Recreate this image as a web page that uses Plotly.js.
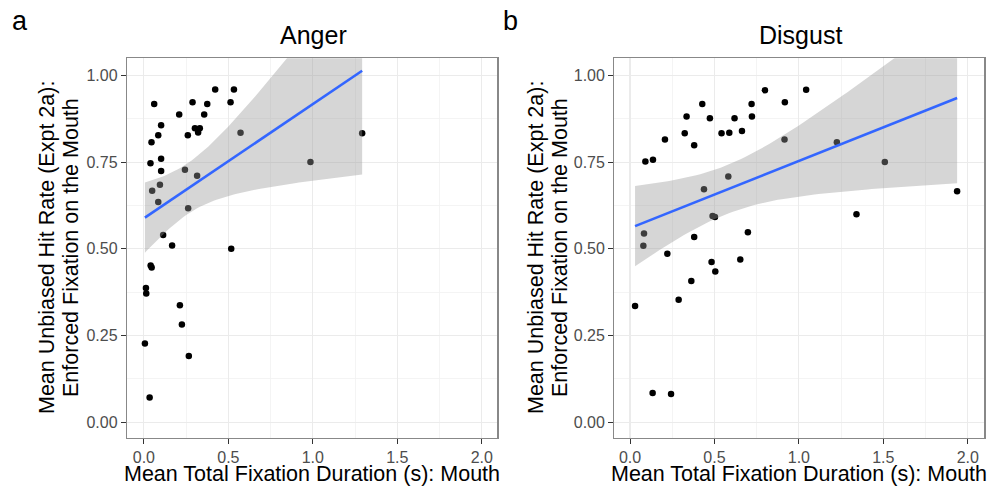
<!DOCTYPE html>
<html>
<head>
<meta charset="utf-8">
<script src="https://cdn.plot.ly/plotly-3.0.1.min.js"></script>
<style>
  html, body { margin: 0; padding: 0; background: #ffffff; }
  #chart { width: 992px; height: 487px; }
</style>
</head>
<body>
<div id="chart"></div>
<script>
// Mean total fixation duration on the mouth (s) vs. mean unbiased hit rate
const angerX = [0.061, 0.102, 0.085, 0.045, 0.039, 0.102, 0.102, 0.095, 0.049, 0.085,
                0.209, 0.288, 0.375, 0.422, 0.533, 0.513, 0.357, 0.302, 0.331, 0.321,
                0.260, 0.572, 0.243, 0.315, 0.262, 0.986, 1.292, 0.114, 0.167, 0.517,
                0.040, 0.046, 0.012, 0.014, 0.213, 0.225, 0.006, 0.266, 0.034];
const angerY = [0.918, 0.857, 0.828, 0.808, 0.747, 0.760, 0.725, 0.685, 0.668, 0.635,
                0.888, 0.923, 0.918, 0.960, 0.960, 0.923, 0.888, 0.848, 0.848, 0.836,
                0.828, 0.835, 0.728, 0.711, 0.617, 0.751, 0.834, 0.540, 0.510, 0.500,
                0.452, 0.446, 0.387, 0.371, 0.337, 0.282, 0.227, 0.191, 0.071];

const disgustX = [0.091, 0.136, 0.207, 0.083, 0.079, 0.221, 0.324, 0.335, 0.380, 0.428,
                  0.438, 0.473, 0.380, 0.489, 0.503, 0.542, 0.588, 0.582, 0.619, 0.663,
                  0.720, 0.722, 0.698, 0.799, 0.917, 0.915, 1.043, 1.225, 1.341, 1.509,
                  1.937, 0.030, 0.288, 0.363, 0.483, 0.505, 0.653, 0.134, 0.243];
const disgustY = [0.752, 0.757, 0.816, 0.544, 0.509, 0.486, 0.834, 0.882, 0.799, 0.918,
                  0.672, 0.877, 0.534, 0.595, 0.592, 0.834, 0.835, 0.709, 0.877, 0.840,
                  0.918, 0.882, 0.548, 0.958, 0.923, 0.816, 0.959, 0.808, 0.600, 0.751,
                  0.666, 0.335, 0.353, 0.407, 0.462, 0.435, 0.469, 0.084, 0.081];

const panelTitles = ["Anger", "Disgust"];
const panelTags = ["a", "b"];
const xTitle = "Mean Total Fixation Duration (s): Mouth";
const yTitleLines = ["Mean Unbiased Hit Rate (Expt 2a):", "Enforced Fixation on the Mouth"];

// Two-sided 95% t quantile (Cornish-Fisher expansion)
function tQuantile975(df) {
  const z = 1.959964;
  const z3 = z * z * z, z5 = z3 * z * z, z7 = z5 * z * z;
  return z + (z3 + z) / (4 * df)
           + (5 * z5 + 16 * z3 + 3 * z) / (96 * df * df)
           + (3 * z7 + 19 * z5 + 17 * z3 - 15 * z) / (384 * df * df * df);
}

// Ordinary least squares fit with 95% confidence band, evaluated on 80 points
function lmSmooth(xs, ys) {
  const n = xs.length;
  const mx = xs.reduce((a, b) => a + b, 0) / n;
  const my = ys.reduce((a, b) => a + b, 0) / n;
  let sxx = 0, sxy = 0;
  for (let i = 0; i < n; i++) { sxx += (xs[i] - mx) ** 2; sxy += (xs[i] - mx) * (ys[i] - my); }
  const b = sxy / sxx, a = my - b * mx;
  let sse = 0;
  for (let i = 0; i < n; i++) sse += (ys[i] - (a + b * xs[i])) ** 2;
  const s = Math.sqrt(sse / (n - 2));
  const t = tQuantile975(n - 2);
  const lo = Math.min(...xs), hi = Math.max(...xs);
  const gx = [], fit = [], upper = [], lower = [];
  for (let k = 0; k < 80; k++) {
    const x = lo + (hi - lo) * k / 79;
    const yh = a + b * x;
    const se = s * Math.sqrt(1 / n + (x - mx) ** 2 / sxx);
    gx.push(x); fit.push(yh); upper.push(yh + t * se); lower.push(yh - t * se);
  }
  return { gx, fit, upper, lower };
}

const W = 992, H = 487;
const fx = v => v / W;
const fy = v => 1 - v / H;
const FONT = '"Liberation Sans", Arial, Helvetica, sans-serif';

function panelTraces(xs, ys, xa, ya) {
  const sm = lmSmooth(xs, ys);
  return [
    { type: 'scatter', mode: 'markers', x: xs, y: ys, xaxis: xa, yaxis: ya,
      marker: { color: '#000000', size: 6.5 }, hoverinfo: 'x+y' },
    { type: 'scatter', mode: 'lines', xaxis: xa, yaxis: ya,
      x: sm.gx.concat(sm.gx.slice().reverse()),
      y: sm.upper.concat(sm.lower.slice().reverse()),
      fill: 'toself', fillcolor: 'rgba(153,153,153,0.4)',
      line: { width: 0 }, hoverinfo: 'skip' },
    { type: 'scatter', mode: 'lines', x: sm.gx, y: sm.fit, xaxis: xa, yaxis: ya,
      line: { color: '#3366FF', width: 2.6 }, hoverinfo: 'skip' }
  ];
}

const data = panelTraces(angerX, angerY, 'x', 'y')
  .concat(panelTraces(disgustX, disgustY, 'x2', 'y2'));

function xAxis(domain, range, anchor) {
  return {
    domain, range, anchor, tick0: 0, dtick: 0.5, tickformat: '.1f',
    ticks: 'outside', ticklen: 5, tickwidth: 1, tickcolor: '#333333',
    tickfont: { family: FONT, size: 16, color: '#4d4d4d' },
    showline: true, mirror: true, linecolor: '#888888', linewidth: 1.2,
    showgrid: true, gridcolor: '#ebebeb', gridwidth: 1.1, zeroline: false,
    minor: { dtick: 0.25, showgrid: true, gridcolor: '#f1f1f1', gridwidth: 0.8 },
    fixedrange: true
  };
}
function yAxis(domain, anchor) {
  return {
    domain, range: [-0.045, 1.05], anchor, tick0: 0, dtick: 0.25, tickformat: '.2f',
    ticks: 'outside', ticklen: 5, tickwidth: 1, tickcolor: '#333333',
    tickfont: { family: FONT, size: 16, color: '#4d4d4d' },
    showline: true, mirror: true, linecolor: '#888888', linewidth: 1.2,
    showgrid: true, gridcolor: '#ebebeb', gridwidth: 1.1, zeroline: false,
    minor: { dtick: 0.125, showgrid: true, gridcolor: '#f1f1f1', gridwidth: 0.8 },
    fixedrange: true
  };
}

const yDom = [fy(437.7), fy(58.3)];
const panels = [
  { left: 127, right: 497.3, yTitleX: [47, 71], tagX: 20 },
  { left: 614.3, right: 984.3, yTitleX: [536, 560], tagX: 510 }
];

const annotations = [];
panels.forEach((p, i) => {
  const cx = (p.left + p.right) / 2;
  annotations.push({ xref: 'paper', yref: 'paper', x: fx(cx + 1), y: fy(35), text: panelTitles[i],
    showarrow: false, xanchor: 'center', yanchor: 'middle',
    font: { family: FONT, size: 25, color: '#000000' } });
  annotations.push({ xref: 'paper', yref: 'paper', x: fx(p.tagX), y: fy(21), text: panelTags[i],
    showarrow: false, xanchor: 'center', yanchor: 'middle',
    font: { family: FONT, size: 27, color: '#000000' } });
  annotations.push({ xref: 'paper', yref: 'paper', x: fx(cx), y: fy(487), text: xTitle,
    showarrow: false, xanchor: 'center', yanchor: 'bottom', borderpad: 0,
    font: { family: FONT, size: 21.5, color: '#000000' } });
  yTitleLines.forEach((line, j) => {
    annotations.push({ xref: 'paper', yref: 'paper', x: fx(p.yTitleX[j]), y: fy(248),
      text: line, textangle: -90, showarrow: false, xanchor: 'center', yanchor: 'middle',
      font: { family: FONT, size: 21.5, color: '#000000' } });
  });
});

const layout = {
  width: W, height: H,
  margin: { l: 0, r: 0, t: 0, b: 0, pad: 0 },
  paper_bgcolor: '#ffffff', plot_bgcolor: '#ffffff',
  showlegend: false,
  font: { family: FONT },
  xaxis: xAxis([fx(127), fx(497.3)], [-0.1, 2.092], 'y'),
  yaxis: yAxis(yDom, 'x'),
  xaxis2: xAxis([fx(614.3), fx(984.3)], [-0.093, 2.098], 'y2'),
  yaxis2: yAxis(yDom, 'x2'),
  annotations
};

Plotly.newPlot('chart', data, layout, { displayModeBar: false, staticPlot: true });
</script>
</body>
</html>
